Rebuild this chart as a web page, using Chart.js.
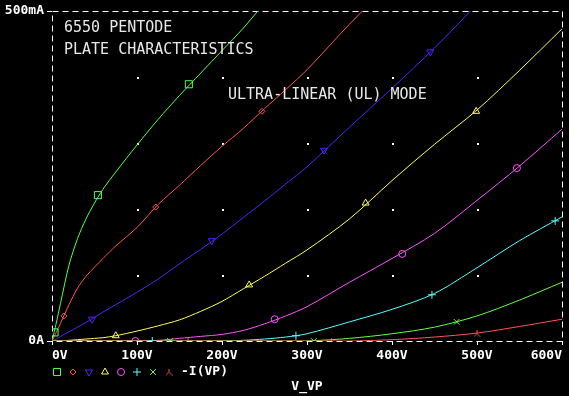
<!DOCTYPE html>
<html>
<head>
<meta charset="utf-8">
<script src="https://cdn.jsdelivr.net/npm/chart.js@4.4.0/dist/chart.umd.min.js"></script>
<style>
  html, body { margin: 0; padding: 0; background: #000; }
  #wrap { width: 569px; height: 396px; }
</style>
</head>
<body>
<div id="wrap"><canvas id="plateChart"></canvas></div>
<script>
// plate voltage grid (V) shared by all curves
const plateV = [0, 5, 10, 20, 30, 40, 50, 60, 75, 100, 125, 150, 175, 200, 225, 250, 275, 300, 350, 400, 450, 500, 550, 600];

// plate current (mA), one array per grid-bias step, top curve first
const curveA = [0, 27, 57, 115, 155, 185, 209, 230, 256, 297, 336, 372, 406, 440, 474, 512, null, null, null, null, null, null, null, null];
const curveB = [0, 13, 27, 55, 80, 98, 112, 125, 144, 172, 207, 236, 266, 295, 322, 352, 381, 411, 480, 545, null, null, null, null];
const curveC = [0, 3, 7, 14, 21, 28, 36, 44, 55, 74, 94, 117, 139, 162, 187, 212, 238, 264, 324, 383, 444, 510, null, null];
const curveD = [0, 0, 0, 1, 2, 3, 4, 5, 8, 15, 23, 32, 45, 60, 79, 98, 118, 138, 185, 243, 298, 350, 410, 473];
const curveE = [0, 0, 0, 0, 0, 0, 0, 0, 0, 0, 1, 4, 7, 10, 16, 26, 38, 52, 89, 125, 163, 213, 265, 321];
const curveF = [0, 0, 0, 0, 0, 0, 0, 0, 0, 0, 0, 0, 0, 0, 1, 3, 6, 11, 29, 48, 72, 111, 152, 188];
const curveG = [0, 0, 0, 0, 0, 0, 0, 0, 0, 0, 0, 0, 0, 0, 0, 0, 0, 0, 4, 11, 21, 38, 62, 89];
const curveH = [0, 0, 0, 0, 0, 0, 0, 0, 0, 0, 0, 0, 0, 0, 0, 0, 0, 0, 0, 2, 6, 12, 22, 33];

// marker positions [V, mA] as PSpice placed them on each trace
const marksA = [[3, 13], [54, 221], [161, 389]];
const marksB = [[14, 38], [122, 203], [247, 348]];
const marksC = [[47, 33], [188, 152], [320, 289], [445, 438]];
const marksD = [[75, 8], [232, 85], [369, 209], [499, 348]];
const marksE = [[98, 0], [262, 33], [412, 132], [547, 262]];
const marksF = [[118, 0], [287, 8], [447, 70], [592, 182]];
const marksG = [[139, 0], [308, 0], [476, 29]];
const marksH = [[160, 0], [329, 0], [500, 11]];

const tickFont = { family: 'DejaVu Sans Mono', size: 13, weight: 'bold' };

// inverted-Y marker used for the last trace
function lambdaMark(color) {
    const c = document.createElement('canvas');
    c.width = 7; c.height = 7;
    const g = c.getContext('2d');
    g.strokeStyle = color;
    g.lineWidth = 1;
    g.beginPath();
    g.moveTo(3.5, 0); g.lineTo(3.5, 3.5);
    g.moveTo(0.5, 6.5); g.lineTo(3.5, 3.5); g.lineTo(6.5, 6.5);
    g.stroke();
    return c;
}

const traces = [
    { data: curveA, marks: marksA, color: '#55ff55', style: 'rect', r: 5, rot: 0 },
    { data: curveB, marks: marksB, color: '#ff5555', style: 'rectRot', r: 3, rot: 0 },
    { data: curveC, marks: marksC, color: '#5522ff', style: 'triangle', r: 4, rot: 180 },
    { data: curveD, marks: marksD, color: '#ffff55', style: 'triangle', r: 4, rot: 0 },
    { data: curveE, marks: marksE, color: '#ff55ff', style: 'circle', r: 3.5, rot: 0 },
    { data: curveF, marks: marksF, color: '#55ffff', style: 'cross', r: 4, rot: 0 },
    { data: curveG, marks: marksG, color: '#66ff44', style: 'crossRot', r: 4, rot: 0 },
    { data: curveH, marks: marksH, color: '#ff5555', style: lambdaMark('#ff5555'), r: 4, rot: 0 }
];

const datasets = [];
traces.forEach((t, i) => {
    datasets.push({
        data: plateV.map((v, k) => ({ x: v, y: t.data[k] })),
        borderColor: t.color,
        borderWidth: 1,
        pointRadius: 0,
        tension: 0.3,
        spanGaps: false,
        order: 10 - i
    });
    datasets.push({
        data: t.marks.map(m => ({ x: m[0], y: m[1] })),
        showLine: false,
        pointStyle: t.style,
        pointRadius: t.r,
        pointRotation: t.rot,
        pointBorderColor: t.color,
        pointBackgroundColor: 'rgba(0,0,0,0)',
        pointBorderWidth: 1,
        order: -1
    });
});

const plotDecor = {
    id: 'plotDecor',
    beforeDatasetsDraw(chart) {
        const { ctx, chartArea: a, scales: { x, y } } = chart;
        ctx.save();
        ctx.strokeStyle = '#ffffff';
        ctx.lineWidth = 1;
        ctx.setLineDash([6, 4]);
        ctx.strokeRect(Math.round(a.left) + 0.5, Math.round(a.top) + 0.5,
            Math.round(a.right - a.left), Math.round(a.bottom - a.top));
        ctx.setLineDash([]);
        // grid dots at each 100 V / 100 mA crossing
        ctx.fillStyle = '#ffffff';
        x.ticks.forEach(t => {
            if (t.value <= x.min || t.value >= x.max) return;
            for (let v = 100; v < y.max; v += 100) {
                ctx.fillRect(Math.round(x.getPixelForValue(t.value)), Math.round(y.getPixelForValue(v)), 2, 2);
            }
        });
        ctx.restore();
    },
    afterDraw(chart) {
        const { ctx, chartArea: a } = chart;
        ctx.save();
        ctx.fillStyle = '#e8e8e8';
        ctx.font = '15px "DejaVu Sans Mono"';
        ctx.textBaseline = 'alphabetic';
        ctx.fillText('6550 PENTODE', a.left + 12, a.top + 21);
        ctx.fillText('PLATE CHARACTERISTICS', a.left + 12, a.top + 43);
        ctx.fillText('ULTRA-LINEAR (UL) MODE', a.left + 176, a.top + 88);

        // legend row: one marker per trace then the expression
        const ly = a.bottom + 31;
        traces.forEach((t, i) => {
            ctx.strokeStyle = t.color;
            ctx.fillStyle = 'rgba(0,0,0,0)';
            ctx.lineWidth = 1;
            Chart.helpers.drawPoint(ctx, { pointStyle: t.style, radius: t.r, rotation: t.rot, borderWidth: 1 },
                a.left + 5 + 16 * i, ly);
        });
        ctx.fillStyle = '#ffffff';
        ctx.font = 'bold 13px "DejaVu Sans Mono"';
        ctx.textBaseline = 'middle';
        ctx.fillText('-I(VP)', a.left + 129, ly);
        ctx.restore();
    }
};

new Chart(document.getElementById('plateChart').getContext('2d'), {
    type: 'line',
    data: { datasets: datasets },
    options: {
        responsive: true,
        maintainAspectRatio: false,
        animation: false,
        layout: { padding: { top: 11, right: 7, left: 0, bottom: 0 } },
        plugins: { legend: { display: false }, tooltip: { enabled: false } },
        scales: {
            x: {
                type: 'linear',
                min: 0,
                max: 600,
                border: { display: false },
                grid: { drawOnChartArea: false, drawTicks: true, tickLength: 4, color: '#ffffff' },
                ticks: {
                    stepSize: 100, align: 'inner', color: '#ffffff', font: tickFont, padding: 3, maxRotation: 0,
                    callback: v => v + 'V'
                },
                title: { display: true, text: 'V_VP', color: '#ffffff', font: tickFont, padding: { top: 0, bottom: 2 } },
                afterFit: s => { s.height = 55; }
            },
            y: {
                type: 'linear',
                min: 0,
                max: 500,
                border: { display: false },
                grid: { drawOnChartArea: false, drawTicks: true, tickLength: 5, color: '#ffffff' },
                ticks: {
                    stepSize: 500, color: '#ffffff', font: tickFont, padding: 3,
                    callback: v => v === 0 ? '0A' : v + 'mA'
                },
                afterFit: s => { s.width = 52; }
            }
        }
    },
    plugins: [plotDecor]
});
</script>
</body>
</html>
